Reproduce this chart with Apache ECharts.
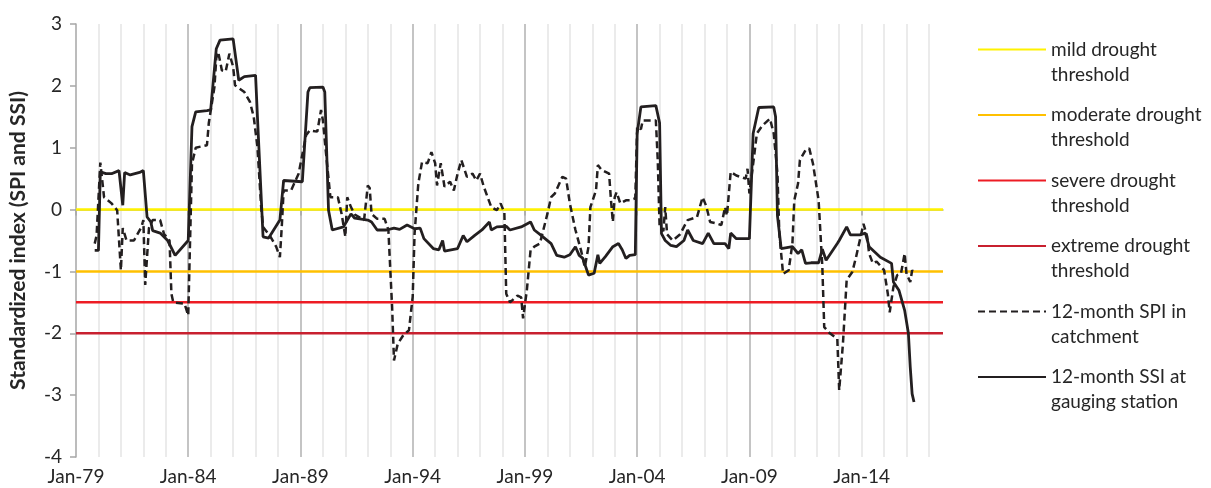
<!DOCTYPE html>
<html><head><meta charset="utf-8">
<script src="https://cdn.jsdelivr.net/npm/echarts@6/dist/echarts.min.js"></script>
<style>html,body{margin:0;padding:0;background:#fff}#c{width:1211px;height:488px}</style>
</head><body><div id="c"></div>
<script>
// months counted from Jan-1979 (0)
const startYear = 1979;
const xTickMonths = [0, 60, 120, 180, 240, 300, 360, 420];
const yTicks = [-4, -3, -2, -1, 0, 1, 2, 3];
const thresholdNames = ['mild drought\nthreshold', 'moderate drought\nthreshold', 'severe drought\nthreshold', 'extreme drought\nthreshold'];
const thresholdValues = [0, -1, -1.5, -2];
const spiName = '12-month SPI in\ncatchment';
const ssiName = '12-month SSI at\ngauging station';

const spi = [[10,-0.55],[11,-0.42],[13,0.76],[15,0.2],[19,0.1],[22,-0.01],[24,-0.98],[25,-0.3],[27,-0.5],[31,-0.5],[35,-0.28],[36,-0.17],[37,-1.22],[39,-0.3],[41,-0.17],[45,-0.17],[47,-0.39],[50,-0.5],[51,-1.36],[52,-1.5],[58,-1.52],[60,-1.71],[62,0.74],[64,1.0],[70,1.04],[71,1.4],[74,1.98],[75,2.45],[76,2.55],[78,2.25],[80,2.23],[82,2.52],[84,2.31],[85,2.01],[90,1.9],[93,1.74],[95,1.5],[97,1.01],[99,0.04],[100,-0.28],[104,-0.44],[107,-0.6],[109,-0.77],[110,-0.28],[111,0.31],[115,0.31],[119,0.58],[123,1.2],[125,1.28],[129,1.26],[131,1.61],[132,1.44],[134,0.8],[136,0.2],[140,0.2],[142,-0.07],[144,-0.44],[145,0.2],[147,0.04],[149,-0.08],[154,-0.17],[156,0.39],[157,0.35],[158,-0.07],[161,-0.15],[165,-0.15],[167,-0.33],[169,-1.58],[170,-2.44],[172,-2.17],[175,-2.03],[178,-1.95],[180,-1.41],[181,-0.39],[183,0.42],[185,0.77],[188,0.75],[190,0.93],[192,0.75],[193,0.39],[195,0.75],[197,0.37],[200,0.45],[202,0.31],[204,0.58],[206,0.8],[209,0.53],[212,0.58],[214,0.47],[216,0.58],[218,0.37],[222,0.04],[225,-0.01],[227,0.1],[229,-0.05],[230,-1.36],[232,-1.5],[236,-1.39],[238,-1.42],[239,-1.76],[241,-1.31],[243,-0.66],[245,-0.6],[248,-0.55],[252,-0.07],[254,0.2],[256,0.26],[260,0.53],[262,0.5],[264,0.1],[267,-0.33],[270,-0.66],[272,-0.93],[274,-0.6],[275,0.04],[278,0.31],[279,0.72],[281,0.64],[285,0.58],[286,0.15],[287,-0.2],[288,0.2],[289,0.28],[291,0.1],[294,0.15],[296,0.15],[299,0.18],[300,1.34],[302,1.3],[303,1.44],[310,1.44],[311,0.8],[312,-0.28],[314,-0.35],[315,0.04],[316,-0.4],[319,-0.5],[323,-0.4],[325,-0.28],[327,-0.17],[332,-0.12],[335,0.2],[337,0.05],[339,-0.2],[342,-0.22],[345,-0.25],[347,0.04],[348,-0.1],[350,0.61],[353,0.55],[358,0.5],[359,0.66],[360,0.26],[362,0.74],[364,1.23],[367,1.36],[371,1.47],[373,1.23],[375,0.58],[376,-0.39],[378,-1.04],[381,-0.98],[383,-0.55],[384,0.15],[386,0.42],[387,0.8],[390,0.96],[392,0.99],[394,0.74],[397,0.15],[399,-0.93],[400,-1.9],[403,-2.0],[407,-2.09],[408,-2.92],[410,-2.17],[412,-1.14],[415,-1.01],[417,-0.77],[419,-0.5],[421,-0.23],[423,-0.44],[424,-0.71],[426,-0.87],[428,-0.84],[432,-0.98],[434,-1.36],[435,-1.66],[437,-1.25],[439,-1.06],[441,-1.04],[443,-0.71],[444,-1.04],[446,-1.17],[447,-0.98],[448,-1.03]];

const ssi = [[10,-0.66],[12,-0.66],[13,0.61],[16,0.58],[19,0.58],[23,0.63],[25,0.07],[26,0.6],[29,0.56],[34,0.6],[36,0.63],[38,-0.12],[40,-0.2],[41,-0.34],[45,-0.38],[49,-0.5],[53,-0.74],[60,-0.5],[62,1.34],[64,1.58],[70,1.6],[72,1.61],[75,2.6],[77,2.74],[84,2.76],[87,2.09],[90,2.15],[96,2.17],[97,1.5],[100,-0.44],[103,-0.46],[109,-0.17],[111,0.47],[121,0.45],[124,1.9],[125,1.97],[132,1.98],[133,1.9],[135,-0.01],[137,-0.33],[143,-0.28],[147,-0.07],[149,-0.14],[156,-0.17],[158,-0.2],[161,-0.33],[166,-0.33],[170,-0.3],[173,-0.32],[177,-0.25],[181,-0.31],[184,-0.3],[186,-0.47],[191,-0.63],[194,-0.65],[196,-0.5],[197,-0.67],[204,-0.63],[207,-0.42],[209,-0.52],[213,-0.42],[217,-0.33],[221,-0.2],[222,-0.33],[225,-0.28],[230,-0.27],[232,-0.33],[238,-0.28],[243,-0.2],[245,-0.33],[248,-0.4],[254,-0.55],[257,-0.74],[261,-0.77],[264,-0.73],[267,-0.6],[269,-0.74],[271,-0.79],[274,-1.06],[277,-1.03],[279,-0.73],[280,-0.87],[283,-0.76],[287,-0.6],[288,-0.62],[290,-0.55],[292,-0.65],[294,-0.79],[296,-0.74],[299,-0.73],[300,1.23],[302,1.66],[310,1.68],[312,1.4],[313,-0.39],[315,-0.5],[318,-0.58],[321,-0.6],[325,-0.5],[327,-0.33],[330,-0.5],[335,-0.55],[338,-0.38],[341,-0.55],[347,-0.55],[349,-0.63],[350,-0.38],[353,-0.47],[360,-0.47],[362,1.23],[365,1.65],[373,1.66],[374,1.5],[375,-0.1],[377,-0.63],[383,-0.6],[386,-0.71],[388,-0.65],[390,-0.87],[393,-0.86],[397,-0.86],[399,-0.64],[401,-0.82],[407,-0.55],[408,-0.5],[412,-0.28],[414,-0.41],[419,-0.41],[422,-0.38],[424,-0.6],[430,-0.77],[436,-0.87],[437,-1.17],[440,-1.31],[443,-1.63],[445,-2.0],[446,-2.55],[447,-2.98],[448,-3.11]];

const X_MAX = 463.5;
const thresholdColors = ['#FFF200', '#FFC000', '#ED1C24', '#C8202F'];
const FONT = 'Lato';
const TXT = '#262626';

const chart = echarts.init(document.getElementById('c'), null, {renderer: 'canvas'});

const series = thresholdNames.map((n, i) => ({
  name: n, type: 'line', symbol: 'none', silent: true,
  data: [[0, thresholdValues[i]], [X_MAX, thresholdValues[i]]],
  lineStyle: {color: thresholdColors[i], width: 2.5},
  itemStyle: {color: thresholdColors[i]}
}));
series.push({
  name: spiName, type: 'line', symbol: 'none', data: spi,
  lineStyle: {color: '#231F20', width: 2.5, type: [7, 4]},
  itemStyle: {color: '#231F20'}
});
series.push({
  name: ssiName, type: 'line', symbol: 'none', data: ssi,
  lineStyle: {color: '#231F20', width: 2.8},
  itemStyle: {color: '#231F20'}
});

const fmtX = v => 'Jan-' + String((startYear + Math.round(v / 12)) % 100).padStart(2, '0');

chart.setOption({
  animation: false,
  backgroundColor: '#fff',
  grid: {left: 75, right: 268, top: 24, bottom: 31, containLabel: false},
  legend: {
    orient: 'vertical', left: 977, top: 12, padding: 0,
    itemWidth: 68, itemHeight: 10, itemGap: -9.5,
    itemStyle: {opacity: 0},
    textStyle: {fontFamily: FONT, fontSize: 19, color: TXT, lineHeight: 25},
    formatter: n => '\n' + n,
    data: series.map(s => s.name)
  },
  xAxis: [{
    type: 'value', min: 0, max: X_MAX, interval: 60, position: 'bottom', z: 1,
    axisLine: {show: true, lineStyle: {color: '#A6A6A6', width: 1.5}},
    axisTick: {show: true, length: 6, customValues: xTickMonths, lineStyle: {color: '#A6A6A6', width: 1.5}},
    axisLabel: {customValues: xTickMonths, formatter: fmtX, fontFamily: FONT, fontSize: 19, color: TXT, margin: 10},
    splitLine: {show: true, showMinLine: false, showMaxLine: false, lineStyle: {color: '#C4C4C4', width: 2}}
  }, {
    type: 'value', min: 0, max: X_MAX, interval: 12, position: 'bottom', z: 0,
    axisLine: {show: false}, axisTick: {show: false}, axisLabel: {show: false},
    splitLine: {show: true, showMinLine: false, showMaxLine: false, lineStyle: {color: '#EBEBEB', width: 2}}
  }],
  yAxis: {
    type: 'value', min: yTicks[0], max: yTicks[yTicks.length - 1], interval: 1,
    name: 'Standardized index (SPI and SSI)', nameLocation: 'middle', nameGap: 47,
    nameTextStyle: {fontFamily: FONT, fontSize: 21, fontWeight: 'bold', color: TXT},
    axisLine: {show: true, lineStyle: {color: '#A6A6A6', width: 1.5}},
    axisTick: {show: true, length: 6, lineStyle: {color: '#A6A6A6', width: 1.5}},
    axisLabel: {fontFamily: FONT, fontSize: 19, color: TXT, margin: 14},
    splitLine: {show: false}
  },
  series: series
});
</script></body></html>
